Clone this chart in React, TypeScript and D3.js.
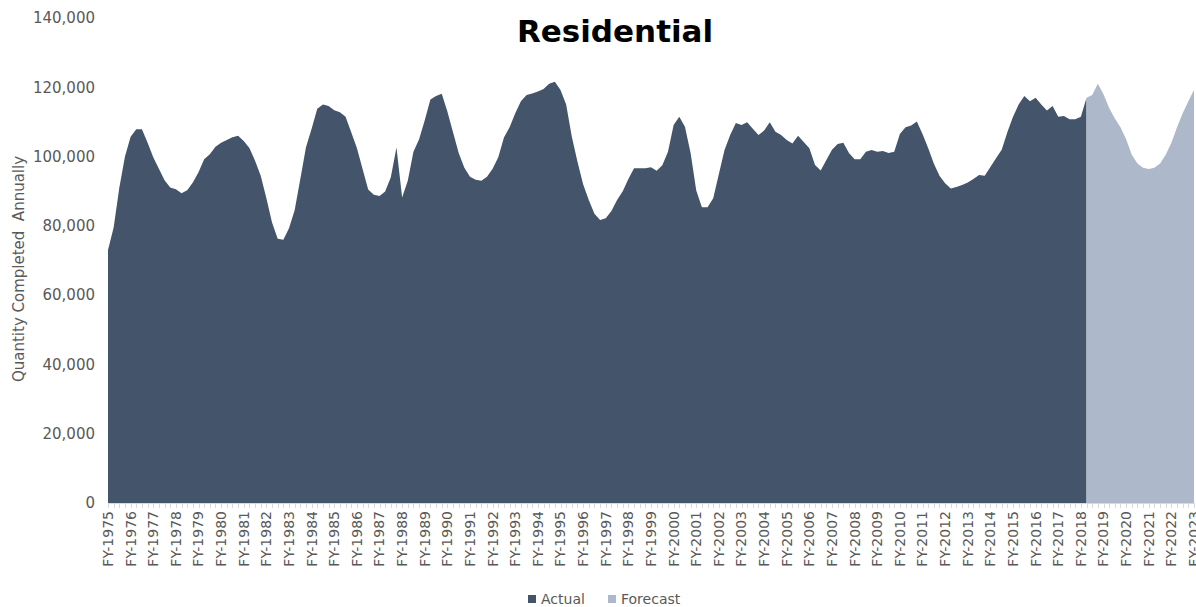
import React from 'react';
import * as d3 from 'd3';

// Quarterly values (thousands), FY-1975 Q1 onward
const startYear = 1975;
const actualK = [
  73, 79.5, 91, 100, 105.7, 107.9, 107.9, 104, 99.8, 96.5,
  93.2, 91.1, 90.6, 89.4, 90.3, 92.5, 95.5, 99.2, 100.7, 102.8,
  104, 104.8, 105.6, 106, 104.5, 102.5, 98.8, 94.5, 88, 81,
  76.3, 76, 79.3, 84.5, 93.5, 102.7, 108, 113.8, 115, 114.6,
  113.4, 112.8, 111.5, 107, 102.5, 96.5, 90.5, 89, 88.6, 89.9,
  94, 102.6, 88.2, 93, 101.4, 105, 110.5, 116.5, 117.5, 118.1,
  113, 107, 101, 96.8, 94.2, 93.3, 93, 94.2, 96.5, 99.8,
  105.5, 108.5, 112.5, 116, 117.8, 118.2, 118.8, 119.5, 121, 121.6,
  119.2, 115, 105.7, 98.5, 92, 87.5, 83.5, 81.7, 82.2, 84.3,
  87.5, 90, 93.5, 96.6, 96.6, 96.6, 96.9, 95.9, 97.5, 101.4,
  109.1, 111.5, 108.6, 101, 90.2, 85.4, 85.4, 88, 95, 101.9,
  106.2, 109.7, 109.1, 109.9, 108, 106.2, 107.5, 109.9, 107.2, 106.2,
  104.8, 103.8, 106, 104.2, 102.4, 97.6, 96, 99, 102, 103.6,
  104, 101, 99.2, 99.2, 101.4, 101.9, 101.4, 101.6, 101, 101.4,
  106.5, 108.5, 109, 110.1, 106.5, 102.5, 98, 94.5, 92.3, 90.8,
  91.2, 91.8, 92.5, 93.5, 94.7, 94.5, 97, 99.5, 102, 107,
  111.5, 115, 117.5, 116, 117, 115, 113.3, 114.6, 111.5, 111.7,
  110.8, 110.8, 111.5, 117,
];
const forecastK = [
  117, 117.8, 121, 118, 114, 111, 108.5, 105, 100.5, 98,
  96.8, 96.4, 96.8, 98, 100.5, 104, 108.5, 112.5, 116, 119.2,
];
const yTicks = [0, 20000, 40000, 60000, 80000, 100000, 120000, 140000];
const seriesNames = ['Actual', 'Forecast'];
const seriesColors = ['#44546A', '#ADB9CA'];

type Pt = { i: number; v: number };

export default function App() {
  const W = 1196;
  const H = 607;
  const left = 108;
  const right = 1194;
  const top = 18;
  const bottom = 503;
  const forecastStart = actualK.length - 1;
  const total = forecastStart + forecastK.length;

  const x = d3.scaleLinear().domain([0, total - 1]).range([left, right]);
  const y = d3.scaleLinear().domain([0, 140000]).range([bottom, top]);

  const actual: Pt[] = actualK.map((v, i) => ({ i, v: v * 1000 }));
  const forecast: Pt[] = forecastK.map((v, k) => ({ i: forecastStart + k, v: v * 1000 }));

  const area = d3
    .area<Pt>()
    .x((d) => x(d.i))
    .y0(y(0))
    .y1((d) => y(d.v))
    .curve(d3.curveLinear);

  const font = 'Verdana, "DejaVu Sans", sans-serif';
  const textColor = '#595959';
  const idx = d3.range(total);

  return (
    <svg
      width={W}
      height={H}
      style={{ position: 'absolute', left: 0, top: 0, background: '#fff' }}
      fontFamily={font}
    >
      <rect x={0} y={0} width={W} height={H} fill="#fff" />
      <text
        x={615}
        y={31}
        dy="0.35em"
        textAnchor="middle"
        fontSize={31}
        fontWeight="bold"
        fill="#000"
      >
        Residential
      </text>

      <path d={area(actual) || ''} fill={seriesColors[0]} />
      <path d={area(forecast) || ''} fill={seriesColors[1]} />

      {/* y axis labels */}
      {yTicks.map((t) => (
        <text
          key={t}
          x={95}
          y={y(t)}
          dy="0.35em"
          textAnchor="end"
          fontSize={15}
          fill={textColor}
        >
          {d3.format(',')(t)}
        </text>
      ))}
      <text
        transform={`translate(19, 269) rotate(-90)`}
        dy="0.35em"
        textAnchor="middle"
        fontSize={15}
        fill={textColor}
        style={{ whiteSpace: 'pre' }}
      >
        {'Quantity Completed  Annually'}
      </text>

      {/* x axis */}
      <line x1={left} x2={right} y1={bottom + 0.5} y2={bottom + 0.5} stroke="#D9D9D9" />
      {idx.map((i) => (
        <line
          key={'t' + i}
          x1={Math.round(x(i)) + 0.5}
          x2={Math.round(x(i)) + 0.5}
          y1={bottom}
          y2={bottom + 5}
          stroke="#D9D9D9"
        />
      ))}
      {idx
        .filter((i) => i % 4 === 0)
        .map((i) => (
          <text
            key={'l' + i}
            transform={`translate(${x(i)}, 511) rotate(-90)`}
            dy="0.35em"
            textAnchor="end"
            fontSize={14}
            fill={textColor}
          >
            {`FY-${startYear + i / 4}`}
          </text>
        ))}

      {/* legend */}
      {seriesNames.map((name, k) => (
        <g key={name} transform={`translate(${k === 0 ? 528 : 608}, 599)`}>
          <rect x={0} y={-4} width={8} height={8} fill={seriesColors[k]} />
          <text x={13} y={0} dy="0.35em" fontSize={14} fill={textColor}>
            {name}
          </text>
        </g>
      ))}
    </svg>
  );
}
